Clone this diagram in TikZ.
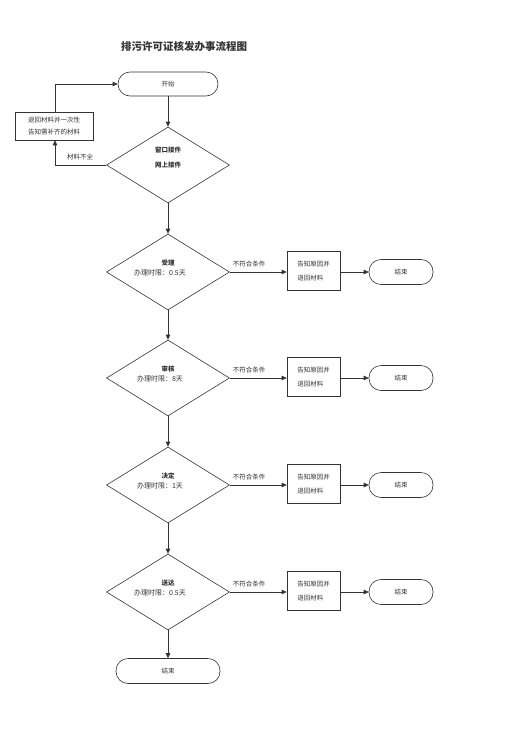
\documentclass[tikz,border=0pt]{standalone}
\usepackage{fontspec}
\newfontfamily\cjk{Noto Sans CJK SC}
\usetikzlibrary{shapes.geometric,arrows.meta}
\definecolor{ink}{HTML}{333333}
\begin{document}
\begin{tikzpicture}[x=1pt,y=-1pt,
  every node/.style={font=\cjk\fontsize{6.5}{8}\selectfont, text=ink},
  term/.style={draw=ink, line width=0.6pt, rounded corners=12pt, minimum width=100pt, minimum height=24pt, inner sep=0pt},
  sterm/.style={draw=ink, line width=0.6pt, rounded corners=12pt, minimum width=64pt, minimum height=25pt, inner sep=0pt},
  dia/.style={draw=ink, line width=0.6pt, shape=diamond, minimum width=123pt, minimum height=76pt, inner sep=0pt, align=center},
  rbox/.style={draw=ink, line width=0.6pt, minimum width=53pt, minimum height=39pt, inner sep=3pt, align=left, font=\cjk\fontsize{6.5}{14}\selectfont},
  lbox/.style={draw=ink, line width=0.6pt, minimum width=78pt, minimum height=28pt, inner sep=2pt, align=center, font=\cjk\fontsize{6.5}{12}\selectfont},
  conn/.style={draw=ink, line width=0.6pt, -{Triangle[length=5pt,width=4.5pt]}},
  lab/.style={font=\cjk\fontsize{6.5}{8}\selectfont}
]
\useasboundingbox (0,0) rectangle (517,742);
\node[font=\cjk\bfseries\fontsize{10.5}{12}\selectfont] (title) at (184,46) {排污许可证核发办事流程图};

\node[term] (start) at (168,84) {开始};
\node[dia] (d1) at (168,165) {};
\node[font=\cjk\bfseries\fontsize{6.5}{15}\selectfont, align=center] (d1t) at (168,158) {窗口接件\\网上接件};
\node[lbox] (back) at (54,126) {退回材料并一次性\\告知需补齐的材料};
\coordinate (c1) at (55,165);
\coordinate (c2) at (55,84);
\draw[conn] (d1.west) -- (c1) -- (back.south -| c1);
\draw[conn] (back.north -| c2) -- (c2) -- (start.west);
\node[lab] (l1) at (80,157) {材料不全};
\draw[conn] (start.south) -- (d1.north);

\foreach \i/\y/\name/\lim in {2/272/受理/0.5天, 3/378/审核/8天, 4/485/决定/1天, 5/592/送达/0.5天}{
  \node[dia] (d\i) at (168,\y) {};
  \node[font=\cjk\bfseries\fontsize{6.5}{8}\selectfont] (dn\i) at (168,\y-9) {\name};
  \node[font=\cjk\fontsize{7}{8}\selectfont] (dl\i) at (160,\y+1) {办理时限：\lim};
  \node[rbox] (b\i) at (313.5,\y-1) {告知原因并\\退回材料};
  \node[sterm] (e\i) at (401,\y) {结束};
  \draw[conn] (d\i.east) -- (b\i.west |- d\i.east);
  \node[lab] (nl\i) at (249,\y-8) {不符合条件};
  \draw[conn] (b\i.east |- e\i.west) -- (e\i.west);
}
\draw[conn] (d1.south) -- (d2.north);
\draw[conn] (d2.south) -- (d3.north);
\draw[conn] (d3.south) -- (d4.north);
\draw[conn] (d4.south) -- (d5.north);
\node[term, minimum width=104pt, minimum height=25pt] (fin) at (168,671) {结束};
\draw[conn] (d5.south) -- (fin.north);
\end{tikzpicture}
\end{document}
